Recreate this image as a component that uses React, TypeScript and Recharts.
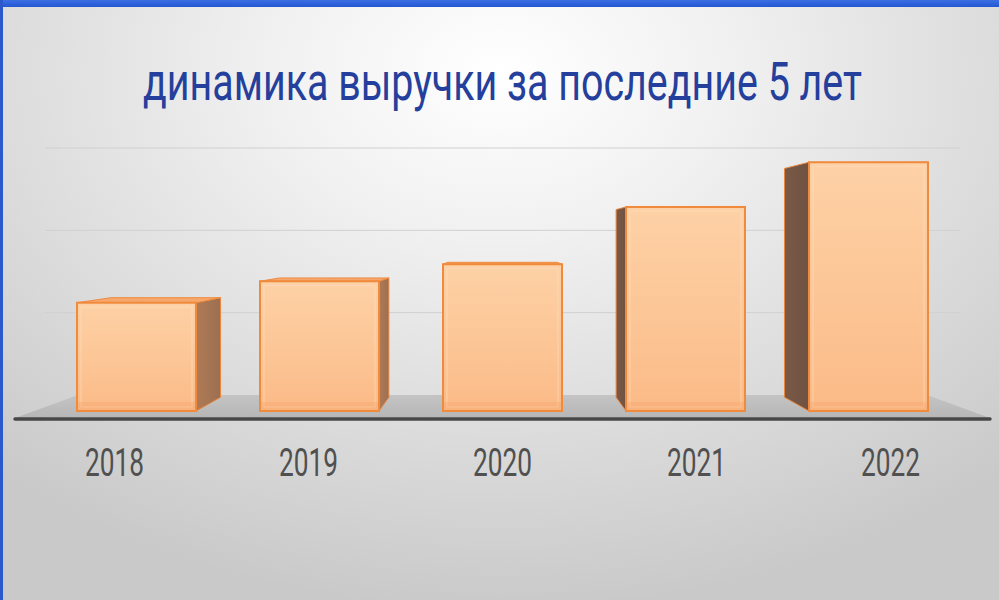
import React from "react";
import { BarChart, Bar, XAxis, YAxis, CartesianGrid } from "recharts";

// данные
const YEARS = ["2018", "2019", "2020", "2021", "2022"];
const REVENUE = [1.21, 1.45, 1.64, 2.28, 2.78];
const WALL_TICKS = [1, 2, 3];
const TITLE = "динамика выручки за последние 5 лет";

const chartData = YEARS.map((year, i) => ({ year, revenue: REVENUE[i] }));

// раскладка
const W = 999;
const H = 600;
const PLOT_LEFT = 45;
const PLOT_RIGHT = 960;
const PLOT_TOP = 148;
const PLOT_BOTTOM = 418;
const XAXIS_H = 60;
const FLOOR_BACK_Y = 395;

// "перспектива" для псевдо-3D
const VPX = (PLOT_LEFT + PLOT_RIGHT) / 2;
const VPY = 240;
const DEPTH = 0.92;

// узкий шрифт имитируем сжатием по горизонтали
const TITLE_SX = 0.78;
const TICK_SX = 0.7;

if (typeof document !== "undefined") {
    document.body.style.margin = "0";
}

const back = (px: number, py: number) => [VPX + (px - VPX) * DEPTH, VPY + (py - VPY) * DEPTH];
const pts = (arr: number[][]) => arr.map((p) => p.join(",")).join(" ");

const Bar3D = (props: any) => {
    const { x, y, width, height, index } = props;
    if (!width || !height) return null;
    const l = x, r = x + width, t = y, b = y + height;
    const gid = `front-${index}`;
    const faces: React.ReactNode[] = [];

    // боковая грань
    if (r < VPX) {
        faces.push(
            <polygon key="side" points={pts([[r, t], back(r, t), back(r, b), [r, b]])}
                fill={`url(#sideR-${index})`} stroke="#e8873f" strokeWidth={1} />
        );
    } else if (l > VPX) {
        faces.push(
            <polygon key="side" points={pts([[l, t], back(l, t), back(l, b), [l, b]])}
                fill={`url(#sideL-${index})`} stroke="#e8873f" strokeWidth={1} />
        );
    }
    // верхняя грань
    if (t > VPY) {
        faces.push(
            <polygon key="top" points={pts([[l, t], [r, t], back(r, t), back(l, t)])}
                fill="#f6a86c" stroke="#ee8a3e" strokeWidth={1} />
        );
    }

    return (
        <g>
            <defs>
                <linearGradient id={gid} x1="0" y1="0" x2="0" y2="1">
                    <stop offset="0%" stopColor="#fdd1a6" />
                    <stop offset="60%" stopColor="#fcc494" />
                    <stop offset="100%" stopColor="#fbba87" />
                </linearGradient>
                <linearGradient id={`sideR-${index}`} x1="0" y1="0" x2="1" y2="0">
                    <stop offset="0%" stopColor="#b07a55" />
                    <stop offset="100%" stopColor="#9c6f52" />
                </linearGradient>
                <linearGradient id={`sideL-${index}`} x1="0" y1="0" x2="1" y2="0">
                    <stop offset="0%" stopColor="#7a5945" />
                    <stop offset="100%" stopColor="#6f5243" />
                </linearGradient>
            </defs>
            {faces}
            <rect x={l} y={t} width={width} height={height} fill={`url(#${gid})`}
                stroke="#f08a3c" strokeWidth={2} />
            <rect x={l + 4} y={t + 4} width={width - 8} height={height - 8} fill="none"
                stroke="rgba(255,225,195,0.55)" strokeWidth={1} />
            <rect x={l + 1} y={b - 9} width={width - 2} height={8} fill="rgba(246,160,100,0.3)" />
        </g>
    );
};

const YearTick = (props: any) => {
    const { x, y, payload } = props;
    // подписи слегка "разъезжаются" от центра, как на 3D-диаграмме
    const px = VPX + (x - VPX) * 1.06;
    return (
        <g transform={`translate(${px},${y + 58}) scale(${TICK_SX},1)`}>
            <text x={0} y={0} textAnchor="middle" fontFamily="Roboto" fontSize={38}
                fill="#505050" textLength={59 / TICK_SX} lengthAdjust="spacingAndGlyphs">
                {payload.value}
            </text>
        </g>
    );
};

const Backdrop = () => {
    const frontL = 15, frontR = 990;
    const sf = (FLOOR_BACK_Y - VPY) / (PLOT_BOTTOM - VPY);
    const bl = VPX + (frontL - VPX) * sf;
    const br = VPX + (frontR - VPX) * sf;
    return (
        <svg width={W} height={H} style={{ position: "absolute", left: 0, top: 0 }}>
            <defs>
                <linearGradient id="floorGrad" x1="0" y1="0" x2="0" y2="1">
                    <stop offset="0%" stopColor="#c4c4c4" />
                    <stop offset="100%" stopColor="#b6b6b6" />
                </linearGradient>
            </defs>
            <g transform={`translate(143,100) scale(${TITLE_SX},1)`}>
                <text x={0} y={0} fontFamily="Roboto" fontSize={54} fill="#243f9c"
                    textLength={719 / TITLE_SX} lengthAdjust="spacingAndGlyphs">
                    {TITLE}
                </text>
            </g>
            <polygon points={pts([[frontL, PLOT_BOTTOM], [frontR, PLOT_BOTTOM], [br, FLOOR_BACK_Y], [bl, FLOOR_BACK_Y]])}
                fill="url(#floorGrad)" />
        </svg>
    );
};

export default function App() {
    return (
        <div
            style={{
                position: "relative",
                width: W,
                height: H,
                overflow: "hidden",
                background:
                    "radial-gradient(ellipse 75% 90% at 50% 12%, #ffffff 0%, #f1f1f1 30%, #dddddd 65%, #c9c9c9 100%)",
            }}
        >
            <Backdrop />
            <div style={{ position: "absolute", left: 0, top: 0 }}>
                <BarChart
                    width={W}
                    height={H}
                    data={chartData}
                    margin={{ top: PLOT_TOP, left: PLOT_LEFT, right: W - PLOT_RIGHT, bottom: H - PLOT_BOTTOM - XAXIS_H }}
                >
                    <YAxis yAxisId="wall" type="number" domain={[-0.28, 3]} ticks={WALL_TICKS} allowDataOverflow hide />
                    <YAxis yAxisId="front" type="number" domain={[-0.078, 2.939]} allowDataOverflow hide />
                    <CartesianGrid yAxisId="wall" vertical={false} stroke="#cfd0d2" strokeWidth={1} />
                    <XAxis dataKey="year" height={XAXIS_H} axisLine={false} tickLine={false}
                        tickSize={0} tickMargin={0} tick={<YearTick />} interval={0} />
                    <Bar yAxisId="front" dataKey="revenue" barSize={119} shape={<Bar3D />}
                        isAnimationActive={false} />
                </BarChart>
            </div>
            <svg width={W} height={H} style={{ position: "absolute", left: 0, top: 0, pointerEvents: "none" }}>
                <line x1={15} y1={PLOT_BOTTOM + 1} x2={990} y2={PLOT_BOTTOM + 1} stroke="#474747"
                    strokeWidth={3.5} strokeLinecap="round" />
            </svg>
            <div style={{ position: "absolute", left: 0, top: 0, width: W, height: 7, background: "linear-gradient(#3a6fe4, #2457d2)" }} />
            <div style={{ position: "absolute", left: 0, top: 0, width: 3, height: H, background: "#2b59cc" }} />
        </div>
    );
}
